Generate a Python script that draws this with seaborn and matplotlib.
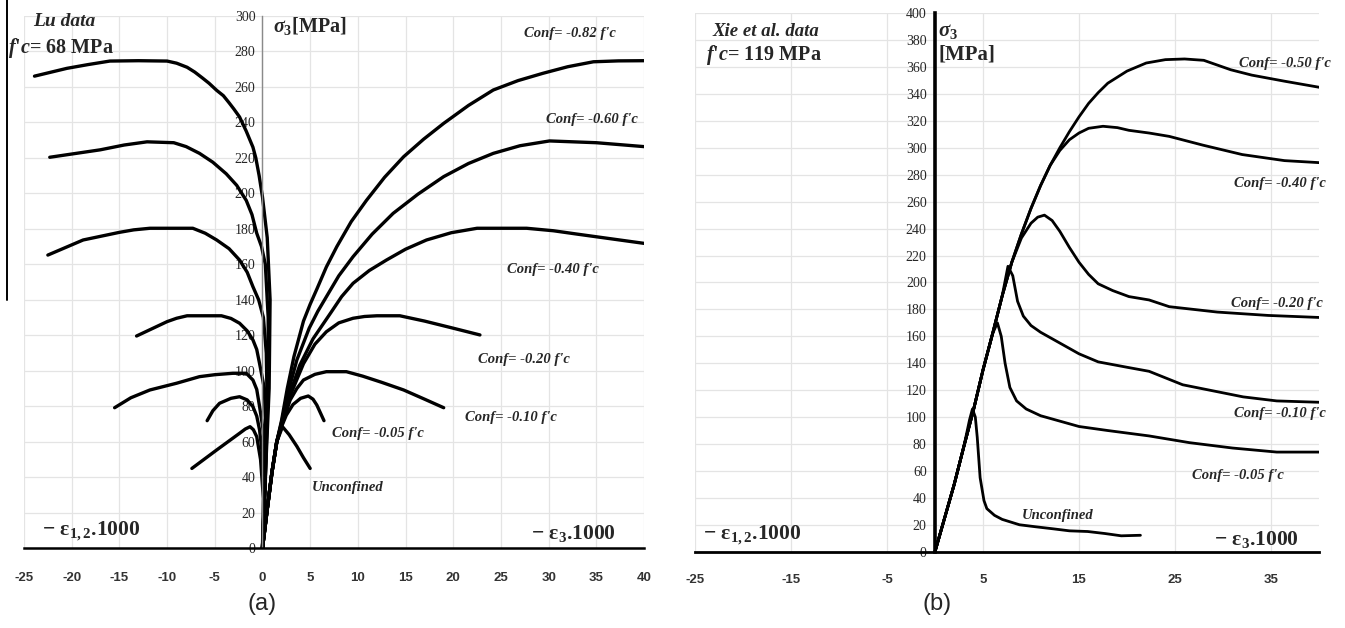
import numpy as np
import pandas as pd
import matplotlib
matplotlib.use("Agg")
import matplotlib.pyplot as plt
import seaborn as sns
from matplotlib.ticker import MultipleLocator
from matplotlib.lines import Line2D

# ---------------- data ----------------
# Panel (a): Lu data, f'c = 68 MPa. Lateral branch (-eps_1,2 x1000, drawn at negative x)
lu_lat_082_x = [0, 0.3, 0.7, 0.8, 0.5, 0.0, -0.35, -0.7, -1.0, -1.7, -2.4, -3.0, -3.5, -4.1, -4.8, -5.6, -6.3, -7.1, -7.9, -9.0, -10.0, -13.0, -16.0, -18.3, -20.5, -23.9]
lu_lat_082_y = [0, 40, 90, 140, 175, 198, 210, 220, 226, 235, 243, 247.5, 251, 255, 258, 262, 265, 268.3, 271, 273.3, 274.5, 274.7, 274.5, 272.5, 270.4, 266]
lu_lat_060_x = [0, 0.3, 0.6, 0.6, 0.3, -0.1, -0.6, -1.1, -1.7, -2.7, -3.8, -5.2, -6.6, -8.0, -9.3, -12.1, -14.5, -17.0, -22.3]
lu_lat_060_y = [0, 40, 90, 130, 160, 170, 177.5, 188, 196, 204.5, 211, 217.5, 222.5, 226.3, 228.5, 229, 227.2, 224.5, 220.3]
lu_lat_040_x = [0, 0.3, 0.5, 0.4, 0.1, -0.4, -1.0, -1.6, -2.4, -3.5, -4.8, -6.0, -7.3, -11.8, -13.5, -15.0, -18.8, -22.5]
lu_lat_040_y = [0, 40, 80, 110, 130, 140, 147.4, 155.5, 162.4, 168.8, 173.7, 177.5, 180.3, 180.3, 179.4, 178, 173.7, 165.2]
lu_lat_020_x = [0, 0.3, 0.35, 0.2, -0.3, -0.6, -1.0, -1.6, -2.4, -3.3, -4.3, -7.9, -9.0, -10.0, -13.2]
lu_lat_020_y = [0, 35, 65, 90, 104, 112, 117.4, 122.5, 126.8, 129.5, 131, 131, 129.6, 127.7, 119.6]
lu_lat_010_x = [0, 0.25, 0.2, -0.3, -0.6, -1.0, -1.7, -3.1, -5.0, -6.6, -9.0, -11.8, -13.8, -15.5]
lu_lat_010_y = [0, 35, 62, 79.8, 89.5, 94.8, 98.6, 98.6, 97.8, 96.7, 93, 89.2, 84.8, 79.2]
lu_lat_005_x = [0, 0.2, 0.0, -0.3, -0.6, -1.0, -1.6, -2.4, -3.3, -4.5, -5.2, -5.8]
lu_lat_005_y = [0, 30, 52, 66.6, 74.5, 79.8, 83.6, 85.4, 84.5, 81.7, 77.5, 71.9]
lu_lat_000_x = [0, 0.1, -0.2, -0.6, -0.95, -1.3, -1.8, -2.4, -4.8, -7.4]
lu_lat_000_y = [0, 28, 50, 62.9, 66.8, 68.5, 67.2, 64.8, 55.4, 45]

# Axial branch (-eps_3 x1000)
lu_ax_082_x = [0, 0.5, 1.0, 1.5, 2.0, 2.6, 3.3, 4.3, 5.0, 5.7, 6.7, 7.8, 9.3, 10.9, 12.8, 14.8, 16.9, 19.0, 21.6, 24.2, 26.8, 29.4, 32.0, 34.7, 37.3, 40]
lu_ax_082_y = [0, 22, 43, 60, 72, 90, 108, 128, 137.5, 146, 158.5, 170, 184, 196, 209, 220.6, 230.5, 239.4, 249.5, 258.2, 263.5, 267.6, 271.3, 274.1, 274.6, 274.7]
lu_ax_060_x = [0, 0.5, 1.0, 1.5, 2.0, 2.7, 3.6, 4.9, 5.8, 6.7, 8.0, 9.5, 11.5, 13.7, 16.3, 19.0, 21.6, 24.2, 27.0, 30.1, 35.0, 40]
lu_ax_060_y = [0, 22, 43, 60, 71, 88, 106, 124, 133.5, 141.7, 153.5, 164.3, 177, 188.7, 199.5, 209.4, 216.8, 222.5, 226.8, 229.5, 228.5, 226.3]
lu_ax_040_x = [0, 0.5, 1.0, 1.5, 2.0, 2.8, 3.9, 5.3, 7.2, 8.3, 9.5, 11.2, 13.0, 15.0, 17.2, 19.8, 22.5, 27.7, 30.5, 33.0, 40]
lu_ax_040_y = [0, 22, 43, 60, 70, 86, 103, 118, 133, 141.8, 149.3, 156.5, 162.4, 168.5, 173.7, 177.8, 180.3, 180.3, 178.9, 177, 171.8]
lu_ax_020_x = [0, 0.5, 1.0, 1.5, 2.0, 2.9, 4.3, 5.5, 6.7, 8.0, 9.5, 10.7, 12.0, 14.4, 17.0, 20.0, 22.8]
lu_ax_020_y = [0, 22, 43, 60, 70, 86, 104, 115, 122, 127, 129.6, 130.6, 131, 131, 128, 124, 120.2]
lu_ax_010_x = [0, 0.5, 1.0, 1.5, 2.0, 2.9, 3.6, 4.3, 5.5, 6.7, 8.8, 10.5, 12.5, 14.8, 17.0, 19.0]
lu_ax_010_y = [0, 22, 43, 60, 69, 83.5, 90, 94.8, 98, 99.5, 99.5, 97, 93.5, 89.2, 84, 79.2]
lu_ax_005_x = [0, 0.5, 1.0, 1.5, 2.0, 2.5, 3.2, 4.0, 4.8, 5.3, 5.7, 6.1, 6.45]
lu_ax_005_y = [0, 22, 43, 60, 68.5, 75, 81, 84.5, 85.8, 84, 80.7, 76, 71.9]
lu_ax_000_x = [0, 0.5, 1.0, 1.5, 2.1, 2.8, 3.6, 4.3, 5.0]
lu_ax_000_y = [0, 22, 43, 60, 68.5, 64, 57.5, 51, 45]

# Panel (b): Xie et al. data, f'c = 119 MPa (axial branch only)
xie_000_x = [0, 1, 2, 3, 3.6, 3.9, 4.2, 4.4, 4.7, 5.1, 5.4, 6.2, 7.0, 8.8, 10.5, 12.3, 14.0, 15.9, 17.7, 19.4, 21.4]
xie_000_y = [0, 25, 50, 78, 98, 106, 100, 85, 55, 38, 32, 27, 24, 20, 18.5, 17, 15.5, 15, 13.5, 11.8, 12.2]
xie_005_x = [0, 1, 2, 3, 4, 5, 6, 6.5, 6.9, 7.3, 7.8, 8.5, 9.5, 11, 13, 15, 18, 22.3, 26.5, 31, 35.6, 40]
xie_005_y = [0, 25, 50, 78, 105, 135, 162, 170, 160, 140, 122, 112, 106, 101, 97, 93, 90, 86, 81, 77, 74, 74]
xie_010_x = [0, 1, 2, 3, 4, 5, 6, 7, 7.6, 8.1, 8.6, 9.2, 10, 11, 13, 15, 17, 20, 22.3, 25.8, 30, 32.1, 35.6, 40]
xie_010_y = [0, 25, 50, 78, 105, 135, 162, 190, 212, 205, 186, 175, 168, 163, 155, 147, 141, 137, 134, 124, 118, 115, 112, 111]
xie_020_x = [0, 1, 2, 3, 4, 5, 6, 7, 8, 9, 10, 10.7, 11.4, 12.2, 13, 14, 15, 16, 17, 18.5, 20.2, 22.3, 24.4, 29.4, 34.7, 40]
xie_020_y = [0, 25, 50, 78, 105, 135, 162, 190, 215, 233, 244, 248.5, 250, 246, 238, 226, 215, 206, 199, 194, 189.5, 187, 182, 178, 175.5, 174]
xie_040_x = [0, 1, 2, 3, 4, 5, 6, 7, 8, 9, 10, 11, 12, 13, 14, 15, 16, 17.5, 19, 20.2, 22.3, 24.4, 27.9, 32, 36.4, 40]
xie_040_y = [0, 25, 50, 78, 105, 135, 162, 190, 215, 236, 255, 272, 287, 298, 306, 311, 314.5, 316, 315, 313, 311, 308.5, 302, 295, 290.5, 289]
xie_050_x = [0, 1, 2, 3, 4, 5, 6, 7, 8, 9, 10, 11, 12, 13, 14, 15, 16, 17, 18, 20, 22, 24, 26, 28, 30.8, 33, 36.4, 40]
xie_050_y = [0, 25, 50, 78, 105, 135, 162, 190, 215, 236, 255, 272, 287, 300, 312, 323, 333, 341, 348, 357, 363, 365.5, 366, 365, 358, 354, 349.5, 345]

# Axis ticks
lu_xticks = [-25, -20, -15, -10, -5, 0, 5, 10, 15, 20, 25, 30, 35, 40]
lu_yticks = [0, 20, 40, 60, 80, 100, 120, 140, 160, 180, 200, 220, 240, 260, 280, 300]
xie_xticks = [-25, -15, -5, 5, 15, 25, 35]
xie_yticks = [0, 20, 40, 60, 80, 100, 120, 140, 160, 180, 200, 220, 240, 260, 280, 300, 320, 340, 360, 380, 400]

# Text labels
lu_curve_labels = ["Conf= -0.82 f'c", "Conf= -0.60 f'c", "Conf= -0.40 f'c", "Conf= -0.20 f'c",
                   "Conf= -0.10 f'c", "Conf= -0.05 f'c", "Unconfined"]
xie_curve_labels = ["Conf= -0.50 f'c", "Conf= -0.40 f'c", "Conf= -0.20 f'c",
                    "Conf= -0.10 f'c", "Conf= -0.05 f'c", "Unconfined"]

# ---------------- build tables ----------------
def frame(curves):
    parts = [pd.DataFrame({"strain": xs, "stress": ys, "curve": name}) for name, xs, ys in curves]
    return pd.concat(parts, ignore_index=True)

df_lu = frame([
    ("lat082", lu_lat_082_x, lu_lat_082_y), ("lat060", lu_lat_060_x, lu_lat_060_y),
    ("lat040", lu_lat_040_x, lu_lat_040_y), ("lat020", lu_lat_020_x, lu_lat_020_y),
    ("lat010", lu_lat_010_x, lu_lat_010_y), ("lat005", lu_lat_005_x, lu_lat_005_y),
    ("lat000", lu_lat_000_x, lu_lat_000_y),
    ("ax082", lu_ax_082_x, lu_ax_082_y), ("ax060", lu_ax_060_x, lu_ax_060_y),
    ("ax040", lu_ax_040_x, lu_ax_040_y), ("ax020", lu_ax_020_x, lu_ax_020_y),
    ("ax010", lu_ax_010_x, lu_ax_010_y), ("ax005", lu_ax_005_x, lu_ax_005_y),
    ("ax000", lu_ax_000_x, lu_ax_000_y),
])
df_xie = frame([
    ("x000", xie_000_x, xie_000_y), ("x005", xie_005_x, xie_005_y),
    ("x010", xie_010_x, xie_010_y), ("x020", xie_020_x, xie_020_y),
    ("x040", xie_040_x, xie_040_y), ("x050", xie_050_x, xie_050_y),
])

# ---------------- style ----------------
sns.set_style("white")
plt.rcParams.update({
    "font.family": ["Liberation Serif", "DejaVu Sans"],
    "mathtext.fontset": "custom",
    "mathtext.rm": "Liberation Serif:bold",
    "mathtext.it": "Liberation Serif:italic:bold",
    "mathtext.bf": "Liberation Serif:bold",
    "axes.unicode_minus": False,
    "lines.solid_joinstyle": "round",
    "lines.solid_capstyle": "round",
})

W, H = 1345, 628
fig = plt.figure(figsize=(W / 100, H / 100), dpi=100)
fig.patch.set_facecolor("white")

axL = fig.add_axes([24 / W, (H - 548.3) / H, 620 / W, 532.5 / H])
axR = fig.add_axes([695 / W, (H - 551.7) / H, 624 / W, 538.5 / H])

sns.lineplot(data=df_lu, x="strain", y="stress", units="curve", estimator=None, sort=False,
             color="black", linewidth=2.4, ax=axL, legend=False)
sns.lineplot(data=df_xie, x="strain", y="stress", units="curve", estimator=None, sort=False,
             color="black", linewidth=2.0, ax=axR, legend=False)

tick_font = dict(family="Liberation Sans", weight="bold", size=9.5, color="#333333")

# ---- left axes ----
axL.set_xlim(-25, 40)
axL.set_ylim(0, 300)
axL.set_xticks(lu_xticks)
axL.set_xticklabels([str(v) for v in lu_xticks], fontdict=tick_font)
axL.set_yticks(lu_yticks)
axL.set_yticklabels([str(v) for v in lu_yticks], fontdict=tick_font)
axL.yaxis.set_minor_locator(MultipleLocator(10))
axL.set_axisbelow(True)
axL.grid(True, which="major", color="#e4e4e4", linewidth=0.9)
for s in ["top", "right"]:
    axL.spines[s].set_visible(False)
axL.spines["left"].set_position(("data", 0))
axL.spines["left"].set_color("#8a8a8a")
axL.spines["left"].set_linewidth(1.0)
axL.spines["bottom"].set_color("black")
axL.spines["bottom"].set_linewidth(1.8)
axL.tick_params(axis="x", direction="out", length=4, width=1.0, pad=13, color="black")
axL.tick_params(axis="y", which="major", direction="out", length=4, width=1.0, pad=1, color="#8a8a8a")
axL.tick_params(axis="y", which="minor", direction="out", length=2.5, width=0.8, color="#8a8a8a")
axL.set_xlabel("")
axL.set_ylabel("")

# ---- right axes ----
axR.set_xlim(-25, 40)
axR.set_ylim(0, 400)
axR.set_xticks(xie_xticks)
axR.set_xticklabels([str(v) for v in xie_xticks], fontdict=tick_font)
axR.set_yticks(xie_yticks)
axR.set_yticklabels([str(v) for v in xie_yticks], fontdict=tick_font)
axR.set_axisbelow(True)
axR.grid(True, which="major", color="#e4e4e4", linewidth=0.9)
for s in ["top", "right"]:
    axR.spines[s].set_visible(False)
axR.spines["left"].set_position(("data", 0))
axR.spines["left"].set_color("black")
axR.spines["left"].set_linewidth(2.6)
axR.spines["bottom"].set_color("black")
axR.spines["bottom"].set_linewidth(2.0)
axR.tick_params(axis="x", direction="out", length=4, width=1.0, pad=12, color="black")
axR.tick_params(axis="y", direction="out", length=4, width=1.0, pad=2, color="#555555")
axR.set_xlabel("")
axR.set_ylabel("")

# ---------------- annotations ----------------
def ftxt(px, py, s, **kw):
    kw.setdefault("ha", "center")
    kw.setdefault("va", "center")
    fig.text(px / W, 1 - py / H, s, **kw)

serif_bi = dict(family="Liberation Serif", weight="bold", style="italic")
serif_b = dict(family="Liberation Serif", weight="bold")

# left panel
ftxt(64, 21, "Lu data", fontsize=14, **serif_bi)
ftxt(61, 48, r"$f$'$c$= 68 MPa", fontsize=14.5, **serif_b)
ftxt(273, 26, r"$\sigma_{3}$[MPa]", fontsize=14.5, ha="left", **serif_b)
lu_label_pos = [(570, 33), (592, 120), (553, 269), (524, 360), (511, 418), (378, 434), (348, 488)]
for lab, (px, py) in zip(lu_curve_labels, lu_label_pos):
    ftxt(px, py, lab, fontsize=10.5, **serif_bi)
ftxt(42, 531, r"$-\ \mathrm{\varepsilon}_{1,2}$.1000", fontsize=15.5, ha="left", **serif_b)
ftxt(531, 533, r"$-\ \mathrm{\varepsilon}_{3}$.1000", fontsize=15.5, ha="left", **serif_b)

# right panel
ftxt(712, 31, "Xie et al. data", fontsize=13.5, ha="left", **serif_bi)
ftxt(706, 55, r"$f$'$c$= 119 MPa", fontsize=14.5, ha="left", **serif_b)
ftxt(938, 31, r"$\sigma_{3}$", fontsize=15, ha="left", **serif_b)
ftxt(938, 55, "[MPa]", fontsize=15, ha="left", **serif_b)
xie_label_pos = [(1285, 64), (1280, 183), (1277, 304), (1280, 414), (1238, 476), (1058, 515)]
for lab, (px, py) in zip(xie_curve_labels, xie_label_pos):
    ftxt(px, py, lab, fontsize=10.5, **serif_bi)
ftxt(703, 535, r"$-\ \mathrm{\varepsilon}_{1,2}$.1000", fontsize=15.5, ha="left", **serif_b)
ftxt(1214, 539, r"$-\ \mathrm{\varepsilon}_{3}$.1000", fontsize=15.5, ha="left", **serif_b)

# panel captions
ftxt(262, 604, "(a)", fontsize=17, family="Liberation Sans")
ftxt(937, 604, "(b)", fontsize=17, family="Liberation Sans")

# border fragment at the far left of the reference image
fig.add_artist(Line2D([7 / W, 7 / W], [1.0, 1 - 300 / H], color="black", linewidth=1.4,
                      transform=fig.transFigure))

fig.savefig("out.png", dpi=100, facecolor="white")
